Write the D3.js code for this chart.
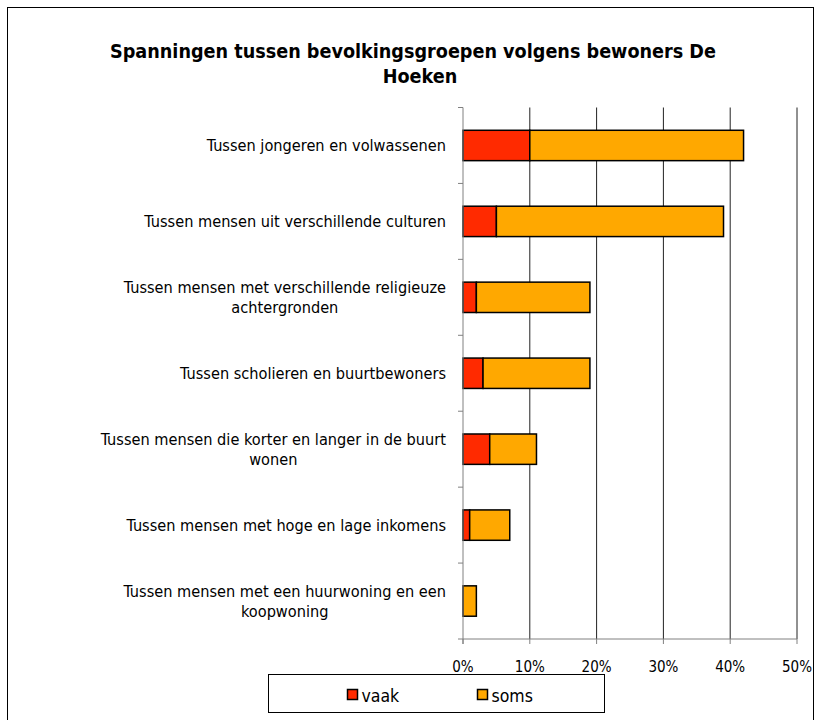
<!DOCTYPE html>
<html><head><meta charset="utf-8">
<script src="https://cdn.jsdelivr.net/npm/d3@7"></script>
<style>body{margin:0;background:#fff}svg{display:block}text{font-family:"DejaVu Sans Condensed","DejaVu Sans",sans-serif;font-stretch:condensed}</style>
</head><body><svg id="c" width="824" height="720"></svg>
<script>
const categories = [
  ["Tussen jongeren en volwassenen"],
  ["Tussen mensen uit verschillende culturen"],
  ["Tussen mensen met verschillende religieuze","achtergronden"],
  ["Tussen scholieren en buurtbewoners"],
  ["Tussen mensen die korter en langer in de buurt","wonen"],
  ["Tussen mensen met hoge en lage inkomens"],
  ["Tussen mensen met een huurwoning en een","koopwoning"]
];
const vaak = [10, 5, 2, 3, 4, 1, 0];
const soms = [32, 34, 17, 16, 7, 6, 2];
const seriesNames = ["vaak", "soms"];
const colors = ["#ff2a00", "#ffa800"];
const xTicks = [0, 10, 20, 30, 40, 50];
const titleLines = ["Spanningen tussen bevolkingsgroepen volgens bewoners De", "Hoeken"];

const svg = d3.select("#c");
svg.append("rect").attr("x",7.5).attr("y",7.5).attr("width",806).attr("height",730)
  .attr("fill","#fff").attr("stroke","#000").attr("stroke-width",1);

const L = 463, R = 797, T = 107.5, B = 639;
const x = d3.scaleLinear().domain([0,50]).range([L,R]);
const idx = d3.range(categories.length);
const y = d3.scaleBand().domain(idx).range([T,B]).paddingInner(0.6).paddingOuter(0.3);
const yb = d3.scaleBand().domain(idx).range([T,B]);

// title
svg.append("text").attr("text-anchor","middle")
  .attr("font-weight","bold").attr("font-size",19.6)
  .selectAll("tspan").data(titleLines).join("tspan")
  .attr("x",(d,i)=>i?420:413).attr("y",(d,i)=>58+i*25).text(d=>d);

// gridlines
svg.append("g").selectAll("line").data(xTicks.filter(d=>d>0)).join("line")
  .attr("x1",d=>x(d)).attr("x2",d=>x(d)).attr("y1",T).attr("y2",B)
  .attr("stroke","#222").attr("stroke-width",1);

// bars
const stackData = idx.map(i=>({i, vaak:vaak[i], soms:soms[i]}));
const stack = d3.stack().keys(seriesNames)(stackData);
svg.append("g").selectAll("g").data(stack).join("g")
  .attr("fill",(d,k)=>colors[k])
  .selectAll("rect").data(d=>d.filter(p=>p[1]-p[0]>0)).join("rect")
  .attr("x",p=>x(p[0])).attr("width",p=>x(p[1])-x(p[0]))
  .attr("y",p=>y(p.data.i)).attr("height",y.bandwidth())
  .attr("stroke","#000").attr("stroke-width",1.5);

// left axis
const ga = svg.append("g").attr("stroke","#808080");
ga.append("line").attr("x1",L).attr("x2",L).attr("y1",T).attr("y2",B+5);
ga.selectAll("line.t").data(d3.range(categories.length+1)).join("line").attr("class","t")
  .attr("x1",L-5).attr("x2",L).attr("y1",d=>T+d*yb.step()).attr("y2",d=>T+d*yb.step());
// bottom axis
ga.append("line").attr("x1",L).attr("x2",R).attr("y1",B).attr("y2",B);
ga.selectAll("line.b").data(xTicks).join("line").attr("class","b")
  .attr("x1",d=>x(d)).attr("x2",d=>x(d)).attr("y1",B).attr("y2",B+5);

// category labels
const lab = svg.append("g").attr("font-size",16.2).attr("fill","#000");
categories.forEach((lines,i)=>{
  const cy = yb(i)+yb.bandwidth()/2;
  const g = lab.append("text").attr("text-anchor","middle");
  const tsp = g.selectAll("tspan").data(lines).join("tspan").text(d=>d);
  let maxW = 0;
  tsp.each(function(){ maxW = Math.max(maxW, this.getComputedTextLength()); });
  const cx = 446 - maxW/2;
  const n = lines.length;
  tsp.attr("x",cx).attr("y",(d,k)=>cy + 5.5 + (k-(n-1)/2)*20);
});

// legend
svg.append("rect").attr("x",268.5).attr("y",674.5).attr("width",336).attr("height",38)
  .attr("fill","#fff").attr("stroke","#000");
const lg = svg.append("g");
const lx = [347.5, 477.5];
seriesNames.forEach((s,k)=>{
  lg.append("rect").attr("x",lx[k]).attr("y",689.5).attr("width",10).attr("height",10)
    .attr("fill",colors[k]).attr("stroke","#000").attr("stroke-width",1.5);
  lg.append("text").attr("x",lx[k]+14).attr("y",701.5).attr("font-size",17.5).text(s);
});

// x tick labels
svg.append("g").selectAll("text").data(xTicks).join("text")
  .attr("x",d=>x(d)).attr("y",672).attr("text-anchor","middle").attr("font-size",15)
  .text(d=>d+"%");
</script></body></html>
